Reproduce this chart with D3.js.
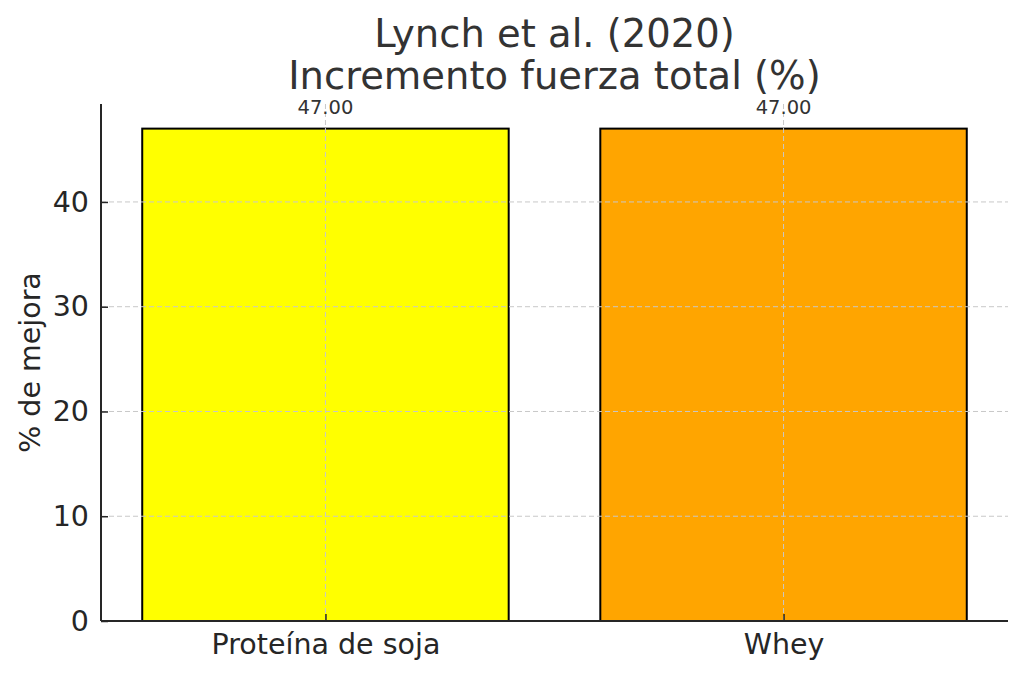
<!DOCTYPE html>
<html>
<head>
<meta charset="utf-8">
<script src="https://cdn.jsdelivr.net/npm/d3@7"></script>
<style>
  body { margin: 0; background: #fff; }
  svg text { font-family: "DejaVu Sans", sans-serif; }
</style>
</head>
<body>
<div id="chart"></div>
<script>
// chart data
var categories = ["Proteína de soja", "Whey"];
var values = [47.00, 47.00];
var barColors = ["#ffff00", "#ffa500"];
var yTicks = [0, 10, 20, 30, 40];
var titleLines = ["Lynch et al. (2020)", "Incremento fuerza total (%)"];
var yLabel = "% de mejora";

var W = 1024, H = 677;
var margin = {top: 104, right: 16, bottom: 56, left: 101};
var width = W - margin.left - margin.right,
    height = H - margin.top - margin.bottom;

var svg = d3.select("#chart")
  .append("svg")
  .attr("width", W)
  .attr("height", H);

var g = svg.append("g")
  .attr("transform", "translate(" + margin.left + "," + margin.top + ")");

// x in "bar index" units like matplotlib: bars at 0,1 width 0.8, 5% padding
var n = categories.length;
var lo = -0.4, hi = n - 1 + 0.4, pad = (hi - lo) * 0.05;
var x = d3.scaleLinear().domain([lo - pad, hi + pad]).range([0, width]);
var y = d3.scaleLinear().domain([0, d3.max(values) * 1.05]).range([height, 0]);

// bars
g.selectAll("rect.bar")
  .data(values)
  .enter()
  .append("rect")
  .attr("class", "bar")
  .attr("x", function(d, i) { return x(i - 0.4); })
  .attr("width", function(d, i) { return x(i + 0.4) - x(i - 0.4); })
  .attr("y", function(d) { return y(d); })
  .attr("height", function(d) { return height - y(d); })
  .style("fill", function(d, i) { return barColors[i]; })
  .style("stroke", "#000")
  .style("stroke-width", 2);

// grid (drawn over bars)
g.append("g")
  .selectAll("line")
  .data(yTicks)
  .enter()
  .append("line")
  .attr("x1", 0).attr("x2", width)
  .attr("y1", function(d) { return y(d); })
  .attr("y2", function(d) { return y(d); })
  .style("stroke", "#c8c8c8")
  .style("stroke-width", 1)
  .style("stroke-dasharray", "5,3");

g.append("g")
  .selectAll("line")
  .data(categories)
  .enter()
  .append("line")
  .attr("x1", function(d, i) { return x(i); })
  .attr("x2", function(d, i) { return x(i); })
  .attr("y1", 0).attr("y2", height)
  .style("stroke", "#c8c8c8")
  .style("stroke-width", 1)
  .style("stroke-dasharray", "5,3");

// y axis
var yAxis = g.append("g")
  .call(d3.axisLeft(y).tickValues(yTicks).tickSize(-7).tickPadding(12).tickFormat(d3.format("d")));
yAxis.select(".domain").style("stroke", "#262626").style("stroke-width", 2);
yAxis.selectAll(".tick line").style("stroke", "#262626").style("stroke-width", 1.5);
yAxis.selectAll(".tick text")
  .style("font-size", "28.5px")
  .style("fill", "#262626");

// x axis
var xAxis = g.append("g")
  .attr("transform", "translate(0," + height + ")")
  .call(d3.axisBottom(x).tickValues(d3.range(n)).tickSize(-7).tickPadding(13)
    .tickFormat(function(d) { return categories[d]; }));
xAxis.select(".domain").style("stroke", "#262626").style("stroke-width", 2);
xAxis.selectAll(".tick line").style("stroke", "#262626").style("stroke-width", 1.5);
xAxis.selectAll(".tick text")
  .style("font-size", "28.5px")
  .style("fill", "#262626");
// only left + bottom spines, no outer tick stubs
yAxis.select(".domain").attr("d", "M0," + height + "V0");
xAxis.select(".domain").attr("d", "M0,0H" + width);

// value labels
g.selectAll("text.val")
  .data(values)
  .enter()
  .append("text")
  .attr("class", "val")
  .attr("x", function(d, i) { return x(i); })
  .attr("y", function(d) { return y(d) - 15; })
  .attr("text-anchor", "middle")
  .style("font-size", "19.5px")
  .style("fill", "#333")
  .text(function(d) { return d3.format(".2f")(d); });

// y label
svg.append("text")
  .attr("transform", "translate(40," + (margin.top + height / 2) + ") rotate(-90)")
  .attr("text-anchor", "middle")
  .style("font-size", "28.5px")
  .style("fill", "#262626")
  .text(yLabel);

// title
svg.append("g")
  .selectAll("text")
  .data(titleLines)
  .enter()
  .append("text")
  .attr("x", margin.left + width / 2)
  .attr("y", function(d, i) { return 47 + i * 42; })
  .attr("text-anchor", "middle")
  .style("font-size", "38.5px")
  .style("fill", "#333")
  .text(function(d) { return d; });
</script>
</body>
</html>
